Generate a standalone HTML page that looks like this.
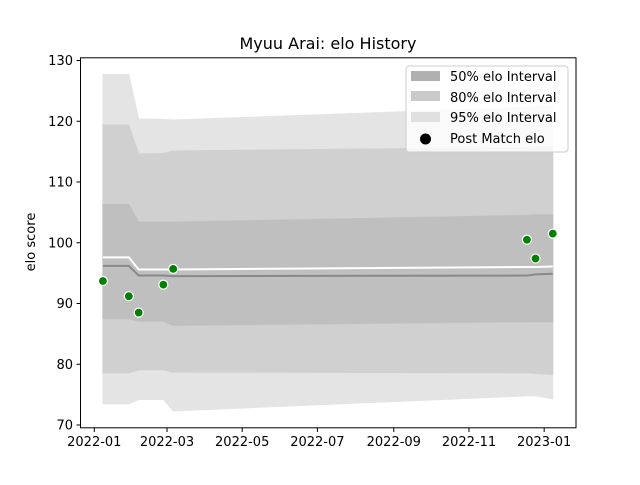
<!DOCTYPE html>
<html><head><meta charset="utf-8"><style>
body{margin:0;background:#fff;}
svg text{font-family:"DejaVu Sans","Liberation Sans",sans-serif;}
</style></head><body>
<svg id="chart" width="640" height="480" xmlns="http://www.w3.org/2000/svg">
<rect width="640" height="480" fill="#fff"/>
<text x="328" y="49" font-size="16" text-anchor="middle">Myuu Arai: elo History</text>
<g id="bands"></g>
<g id="lines"></g>
<g id="points"></g>
<rect x="80.5" y="57.8" width="495.5" height="370" fill="none" stroke="#000" stroke-width="1"/>
<g id="yticks"></g>
<g id="xticks"></g>
<text transform="translate(35,242) rotate(-90)" font-size="13" text-anchor="middle">elo score</text>
<g>
<rect x="406" y="66" width="162" height="86" rx="3" fill="#fff" fill-opacity="0.8" stroke="#ccc"/>
<g><rect x="411" y="71" width="29" height="10" fill="#b0b0b0"/><text x="450" y="81" font-size="13">50% elo Interval</text></g>
<g><rect x="411" y="91" width="29" height="10" fill="#cacaca"/><text x="450" y="102" font-size="13">80% elo Interval</text></g>
<g><rect x="411" y="112" width="29" height="10" fill="#e0e0e0"/><text x="450" y="122" font-size="13">95% elo Interval</text></g>
<g><circle cx="425.5" cy="139" r="5.5" fill="#000"/><text x="450" y="143" font-size="13">Post Match elo</text></g>
</g>
</svg>
<script>
const bandDays = [7, 28, 36, 56, 64, 351, 358, 372];
const hi95 = [127.7, 127.7, 120.4, 120.3, 120.2, 122.3, 122.4, 122.5];
const hi80 = [119.4, 119.4, 114.6, 114.7, 115.1, 115.7, 115.8, 115.8];
const hi50 = [106.3, 106.3, 103.4, 103.4, 103.4, 104.5, 104.6, 104.6];
const meanLine = [97.6, 97.6, 95.6, 95.6, 95.6, 96.0, 96.0, 96.1];
const medLine = [96.2, 96.2, 94.6, 94.6, 94.5, 94.6, 94.8, 94.9];
const lo50 = [87.5, 87.5, 87.1, 87.1, 86.4, 87.0, 87.0, 87.0];
const lo80 = [78.6, 78.6, 79.1, 79.1, 78.7, 78.6, 78.5, 78.3];
const lo95 = [73.5, 73.5, 74.2, 74.2, 72.3, 74.8, 74.8, 74.3];
const matchDays = [7, 28, 36, 56, 64, 351, 358, 372];
const matchElo = [93.7, 91.2, 88.5, 93.1, 95.7, 100.5, 97.4, 101.5];
const yTicks = [70, 80, 90, 100, 110, 120, 130];
const xTickDays = [0, 59, 120, 181, 243, 304, 365];
const xTickLabels = ["2022-01","2022-03","2022-05","2022-07","2022-09","2022-11","2023-01"];

const NS="http://www.w3.org/2000/svg";
function X(d){return 94.3 + d*1.2325;}
function Y(v){return 60.5 + (130 - v)*6.075;}
function mk(tag, attrs, parent){const e=document.createElementNS(NS,tag);for(const k in attrs)e.setAttribute(k,attrs[k]);document.getElementById(parent).appendChild(e);return e;}
function band(hi, lo, fill, name){
  let pts = bandDays.map((d,i)=>X(d)+","+Y(hi[i]));
  pts = pts.concat(bandDays.map((d,i)=>X(d)+","+Y(lo[i])).reverse());
  const p = mk("polygon",{points:pts.join(" "),fill:fill,stroke:fill,"stroke-width":1},"bands");
  
  
}
band(hi95, lo95, "#e4e4e4", "band-95");
band(hi80, lo80, "#d0d0d0", "band-80");
band(hi50, lo50, "#bfbfbf", "band-50");
function line(vals, color, w, name){
  const p = mk("polyline",{points:bandDays.map((d,i)=>X(d)+","+Y(vals[i])).join(" "),fill:"none",stroke:color,"stroke-width":w},"lines");
  
  
}
line(medLine, "#888", 2, "median-line");
line(meanLine, "#fff", 2, "mean-line");
matchDays.forEach((d,i)=>{
  const c = mk("circle",{cx:X(d),cy:Y(matchElo[i]),r:4.5,fill:"green",stroke:"#fff","stroke-width":1.2},"points");
  
  
});
yTicks.forEach(v=>{
  const g = mk("g",{},"yticks");
  
  
  const l=document.createElementNS(NS,"line");l.setAttribute("x1",76.5);l.setAttribute("x2",80.5);l.setAttribute("y1",Y(v));l.setAttribute("y2",Y(v));l.setAttribute("stroke","#000");g.appendChild(l);
  const t=document.createElementNS(NS,"text");t.setAttribute("x",73);t.setAttribute("y",Y(v)+4.5);t.setAttribute("font-size","13");t.setAttribute("text-anchor","end");t.textContent=v;g.appendChild(t);
});
xTickDays.forEach((d,i)=>{
  const g = mk("g",{},"xticks");
  
  
  const l=document.createElementNS(NS,"line");l.setAttribute("x1",X(d));l.setAttribute("x2",X(d));l.setAttribute("y1",427.8);l.setAttribute("y2",432);l.setAttribute("stroke","#000");g.appendChild(l);
  const t=document.createElementNS(NS,"text");t.setAttribute("x",X(d));t.setAttribute("y",446);t.setAttribute("font-size","13");t.setAttribute("text-anchor","middle");t.textContent=xTickLabels[i];g.appendChild(t);
});
</script>
</body></html>
